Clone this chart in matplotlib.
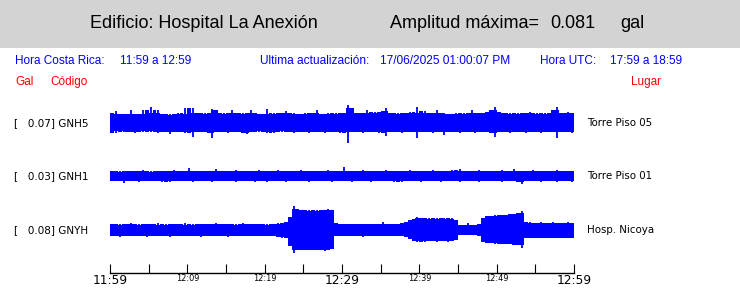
import numpy as np
import matplotlib
matplotlib.use("Agg")
import matplotlib.pyplot as plt
from matplotlib.patches import Rectangle

# ---------------- data ----------------
building = "Hospital La Anexión"
amplitud_max = 0.081
codes = ["GNH5", "GNH1", "GNYH"]
places = ["Torre Piso 05", "Torre Piso 01", "Hosp. Nicoya"]
peak_gal = [0.07, 0.03, 0.08]
tick_labels = ["11:59", "12:09", "12:19", "12:29", "12:39", "12:49", "12:59"]
big_labels = ["11:59", "12:29", "12:59"]

# envelope of each trace, one value per 30 s bin (upper / lower excursion)
gnh5_top = [9,12,9,8,9,13,8,9,13,9,16,10,13,9,8,9,8,10,9,15,
            9,15,10,9,10,9,14,13,9,10,9,13,10,9,10,9,13,10,9,8,
            14,9,10,9,10,12,9,10,8,9,10,9,10,13,9,8,10,9,10,9,
            10,18,15,10,9,10,13,9,11,10,12,15,10,9,10,9,10,11,10,16,
            10,12,9,10,13,9,10,9,8,10,9,10,9,13,10,9,10,11,13,16,
            11,10,9,10,9,10,9,10,11,9,10,9,10,9,13,16,10,9,11,10]
gnh5_bot = [8,10,8,9,8,9,10,8,9,8,9,8,10,9,8,11,9,8,9,10,
            9,14,9,8,9,10,15,9,8,9,10,9,8,9,10,11,9,8,9,8,
            10,9,10,8,9,8,9,10,9,8,9,10,9,8,9,10,9,8,9,10,
            9,20,9,8,9,10,9,8,9,10,9,13,9,8,9,10,9,8,9,15,
            9,8,9,10,9,8,12,9,8,9,10,9,8,9,10,9,8,9,10,14,
            9,8,9,10,9,8,9,10,9,8,9,10,9,8,9,15,9,8,9,10]
gnh1_top = [5,4,5,4,5,5,4,5,6,4,5,4,5,5,4,5,6,4,5,5,
            8,5,4,5,5,4,5,7,5,4,5,5,6,4,5,5,4,5,6,5,
            4,5,5,6,4,5,5,4,5,6,5,4,5,5,4,5,6,4,5,5,
            9,5,4,5,5,6,4,5,5,4,5,6,5,4,5,5,4,6,5,4,
            5,5,4,6,5,4,5,5,6,5,7,4,5,5,4,6,5,4,5,5,
            4,6,5,4,7,5,4,5,5,6,4,5,5,4,5,6,5,4,5,5]
gnh1_bot = [5,5,4,7,5,4,5,6,4,5,5,4,5,6,5,6,4,5,5,4,
            5,6,5,4,5,5,6,4,5,5,4,5,6,5,4,5,5,6,4,5,
            6,5,4,5,5,6,4,5,5,4,5,6,5,4,5,5,4,6,5,5,
            4,5,6,5,4,5,5,6,4,5,5,4,5,6,5,6,5,4,5,5,
            6,4,5,5,4,6,5,5,4,5,6,5,4,5,5,6,4,5,5,4,
            5,6,5,4,5,6,8,5,4,5,5,6,4,5,5,6,4,5,5,6]
gnyh_top = [6,5,6,5,6,7,5,6,5,6,6,5,7,5,6,5,6,6,5,7,
            5,6,5,6,6,5,6,7,5,6,6,5,6,5,7,6,5,6,6,5,
            6,5,6,7,6,8,13,24,21,20,19,20,19,20,19,20,21,20,7,6,
            6,5,6,6,5,6,6,5,6,6,8,6,5,6,6,7,8,10,11,13,
            12,11,12,11,12,11,12,11,12,10,5,4,7,5,5,6,12,14,14,15,
            14,15,15,16,16,17,19,7,8,7,7,8,7,7,8,7,6,7,8,7]
gnyh_bot = [6,5,7,6,5,6,6,5,6,7,5,6,6,5,6,7,5,6,6,5,
            6,6,5,7,6,5,6,6,5,6,7,5,6,6,5,6,6,5,6,6,
            5,6,6,7,8,6,16,23,20,20,19,20,20,19,20,21,20,19,6,6,
            5,6,6,5,6,7,6,5,6,6,5,6,6,5,6,6,7,9,11,12,
            11,12,11,11,12,11,11,12,11,10,5,5,4,5,5,6,12,13,13,14,
            13,14,14,14,15,15,18,8,7,8,8,7,8,8,7,8,8,7,8,8]

tops = [gnh5_top, gnh1_top, gnyh_top]
bots = [gnh5_bot, gnh1_bot, gnyh_bot]

# ---------------- layout ----------------
W, H = 740, 288
fig = plt.figure(figsize=(W / 100, H / 100), dpi=100)
fig.patch.set_facecolor("white")

def fx(x):
    return x / W

def fy(y):
    return 1 - y / H

fig.patches.append(Rectangle((0, fy(48)), 1, 48 / H, transform=fig.transFigure,
                             facecolor="#d3d3d3", edgecolor="none", zorder=0))

hdr = dict(family=["Liberation Sans", "DejaVu Sans"], va="center", ha="left")
fig.text(fx(90), fy(23), f"Edificio: {building}", fontsize=13, color="black", **hdr)
fig.text(fx(390), fy(23), "Amplitud máxima=", fontsize=13, color="black", **hdr)
fig.text(fx(550), fy(23), f"{amplitud_max:.3f}", fontsize=13, color="black", **hdr)
fig.text(fx(620), fy(23), "gal", fontsize=13, color="black", **hdr)

blue = "#0000ff"
fig.text(fx(15), fy(61), "Hora Costa Rica:", fontsize=8.5, color=blue, **hdr)
fig.text(fx(120), fy(61), "11:59 a 12:59", fontsize=8.5, color=blue, **hdr)
fig.text(fx(260), fy(61), "Ultima actualización:", fontsize=8.6, color=blue, **hdr)
fig.text(fx(380), fy(61), "17/06/2025 01:00:07 PM", fontsize=8.6, color=blue, **hdr)
fig.text(fx(540), fy(61), "Hora UTC:", fontsize=8.5, color=blue, **hdr)
fig.text(fx(610), fy(61), "17:59 a 18:59", fontsize=8.5, color=blue, **hdr)

red = "#ff0000"
fig.text(fx(15), fy(82), "Gal", fontsize=8.5, color=red, **hdr)
fig.text(fx(50), fy(82), "Código", fontsize=8.5, color=red, **hdr)
fig.text(fx(631), fy(82), "Lugar", fontsize=8.5, color=red, **hdr)

# trace axes: y measured in pixels from the top of the figure
ax_top, ax_bot = 95, 273
ax = fig.add_axes([fx(110), fy(ax_bot), (574 - 110) / W, (ax_bot - ax_top) / H])
ax.set_xlim(0, 60)
ax.set_ylim(ax_bot, ax_top)
ax.patch.set_alpha(0)

centers = [123, 176, 230]
nb = len(gnh5_top)
dt = 60 / nb
edges = np.arange(nb + 1) * dt
mids = (np.arange(nb) + 0.5) * dt

def core(v):
    # solid body: median excursion of each bin and its neighbours
    stack = np.vstack([np.roll(v, 1), v, np.roll(v, -1)])
    return np.median(stack, axis=0)

for c, t, b in zip(centers, tops, bots):
    t = np.asarray(t, float)
    b = np.asarray(b, float)
    tc, bc = core(t), core(b)
    ax.fill_between(edges, c - np.append(tc, tc[-1]), c + np.append(bc, bc[-1]),
                    step="post", color=blue, linewidth=0)
    # thin spikes carrying each bin's full excursion
    ax.vlines(mids, c - t, c + b, color=blue, linewidth=1.3)

for c, code, place, pk in zip(centers, codes, places, peak_gal):
    fig.text(fx(14), fy(c), f"[   {pk:.2f}] {code}", fontsize=7.5, color="black",
             family="DejaVu Sans", va="center", ha="left")
    fig.text(fx(587), fy(c), place, fontsize=7.4, color="black",
             family="DejaVu Sans", va="center", ha="left")

for s in ["top", "left", "right"]:
    ax.spines[s].set_visible(False)
ax.spines["bottom"].set_linewidth(1.0)
ax.set_yticks([])
ticks = np.arange(0, 61, 5)
ax.set_xticks(ticks)
lab_map = {i * 10: l for i, l in enumerate(tick_labels)}
ax.set_xticklabels([lab_map.get(t, "") for t in ticks])
ax.tick_params(axis="x", direction="in", length=6.5, width=0.8, pad=0.5, colors="black")
for lbl in ax.get_xticklabels():
    lbl.set_fontsize(8.8 if lbl.get_text() in big_labels else 5.9)
    lbl.set_family("DejaVu Sans")

fig.savefig("out.png", dpi=100)
